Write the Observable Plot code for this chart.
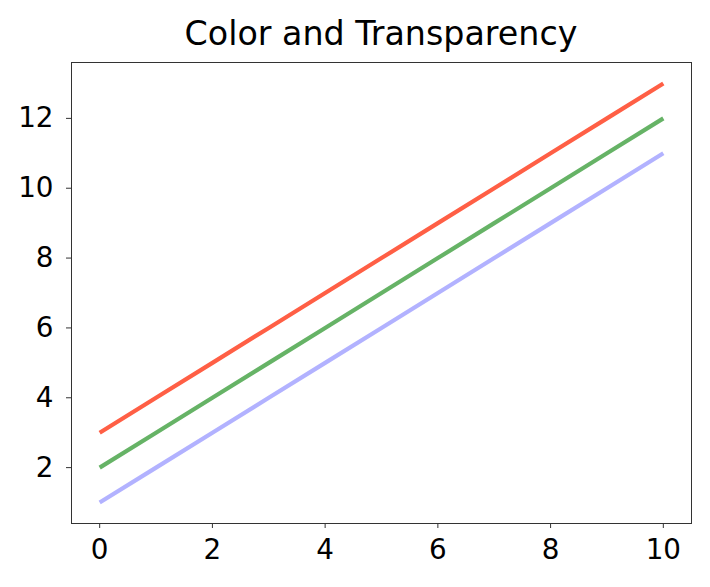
<!DOCTYPE html>
<html>
<head>
<meta charset="utf-8">
<script src="https://cdn.jsdelivr.net/npm/d3@7"></script>
<script src="https://cdn.jsdelivr.net/npm/@observablehq/plot@0.6"></script>
<style>
  html, body { margin: 0; padding: 0; background: #fff; }
  #wrap { width: 710px; height: 587px; position: relative; }
  #title { position: absolute; left: 71px; width: 620px; top: 14px; text-align: center;
    font-family: "DejaVu Sans", sans-serif; font-size: 33.3px; line-height: 40px; color: #000; }
  #chart { position: absolute; left: 0; top: 50px; }
</style>
</head>
<body>
<div id="wrap">
  <div id="title">Color and Transparency</div>
  <div id="chart"></div>
</div>
<script>
const xs = [0, 1, 2, 3, 4, 5, 6, 7, 8, 9, 10];
const redY = [3, 4, 5, 6, 7, 8, 9, 10, 11, 12, 13];
const greenY = [2, 3, 4, 5, 6, 7, 8, 9, 10, 11, 12];
const blueY = [1, 2, 3, 4, 5, 6, 7, 8, 9, 10, 11];
const xTicks = [0, 2, 4, 6, 8, 10];
const yTicks = [2, 4, 6, 8, 10, 12];

const seriesDefs = [
  {name: "blue", ys: blueY, color: "#0000ff", opacity: 0.3},
  {name: "green", ys: greenY, color: "#008000", opacity: 0.6},
  {name: "red", ys: redY, color: "#ff5f45", opacity: 1}
];

const font = "DejaVu Sans, sans-serif";
const plot = Plot.plot({
  width: 710,
  height: 537,
  marginTop: 12,
  marginBottom: 64,
  marginLeft: 71,
  marginRight: 19,
  style: {fontFamily: font, fontSize: "27.8px", color: "#000", background: "transparent"},
  x: {domain: [-0.5, 10.5]},
  y: {domain: [0.4, 13.6]},
  marks: [
    ...seriesDefs.map(s => Plot.line(xs.map((x, i) => ({x, y: s.ys[i]})), {
      x: "x", y: "y", stroke: s.color, strokeOpacity: s.opacity, strokeWidth: 4.2, strokeLinecap: "butt"
    })),
    Plot.frame({stroke: "#333", strokeWidth: 1}),
    Plot.axisX({ticks: xTicks, tickSize: 5, tickPadding: 11, label: null, stroke: "#333", fontSize: 27.8, tickFormat: d => String(d)}),
    Plot.axisY({ticks: yTicks, tickSize: 5, tickPadding: 13, label: null, stroke: "#333", fontSize: 27.8, tickFormat: d => String(d)})
  ]
});
document.getElementById("chart").appendChild(plot);
</script>
</body>
</html>
